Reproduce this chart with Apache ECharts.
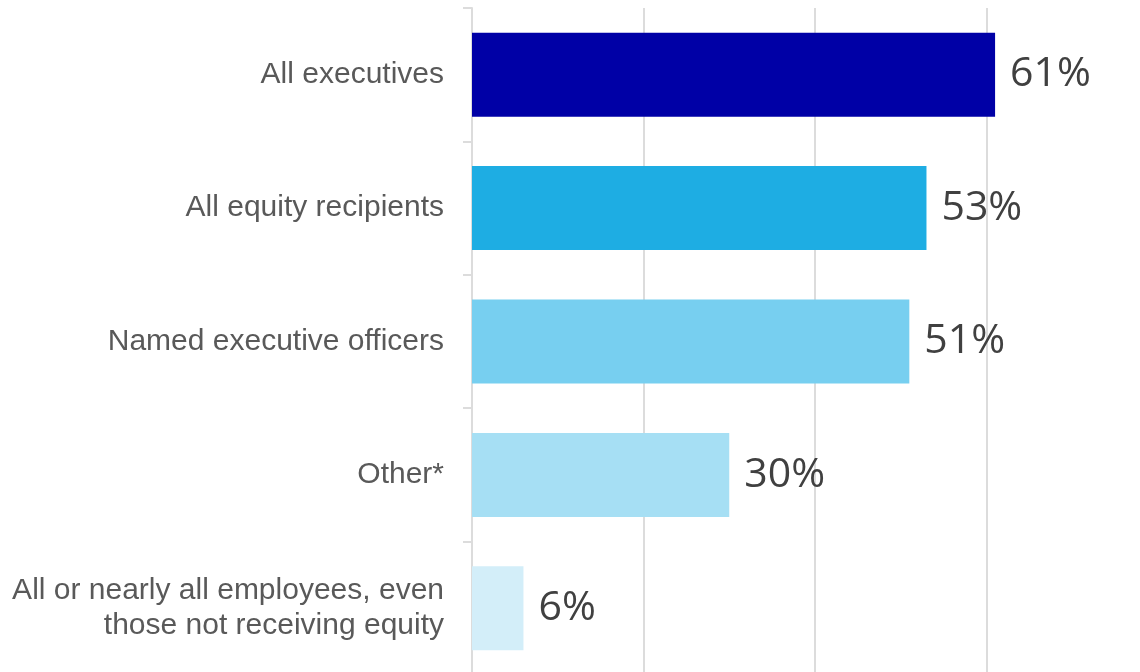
<!DOCTYPE html>
<html>
<head>
<meta charset="utf-8">
<script src="https://cdn.jsdelivr.net/npm/echarts@6/dist/echarts.min.js"></script>
<style>
  html, body { margin: 0; padding: 0; background: #ffffff; overflow: hidden; }
  #chart { width: 1140px; height: 680px; }
</style>
</head>
<body>
<div id="chart"></div>
<script>
// Groups covered by the policy, top to bottom
const categories = [
  'All executives',
  'All equity recipients',
  'Named executive officers',
  'Other*',
  'All or nearly all employees, even\nthose not receiving equity'
];
// Share of companies (%)
const values = [61, 53, 51, 30, 6];
const barColors = ['#0000A6', '#1EADE3', '#77CFF0', '#A6DFF4', '#D3EEF9'];
// Gridline positions (%); the visible range stops just short of 80
const xTicks = [0, 20, 40, 60];
const xMax = 77.9;

const chart = echarts.init(document.getElementById('chart'), null, { renderer: 'canvas' });

chart.setOption({
  animation: false,
  backgroundColor: '#ffffff',
  grid: { left: 472, right: 0, top: 8, height: 667, containLabel: false },
  xAxis: {
    type: 'value',
    min: xTicks[0],
    max: xMax,
    interval: xTicks[1] - xTicks[0],
    axisLabel: { show: false },
    axisLine: { show: false },
    axisTick: { show: false },
    splitLine: { show: true, showMaxLine: false, lineStyle: { color: '#dcdcdc', width: 2 } }
  },
  yAxis: {
    type: 'category',
    inverse: true,
    data: categories,
    axisLine: { show: true, lineStyle: { color: '#dcdcdc', width: 2 } },
    axisTick: { show: true, length: 9, lineStyle: { color: '#dcdcdc', width: 2 } },
    axisLabel: {
      margin: 28,
      color: '#595959',
      fontFamily: 'Liberation Sans, Arial, sans-serif',
      fontSize: 30,
      lineHeight: 35,
      align: 'right'
    }
  },
  series: [{
    type: 'bar',
    data: values.map((v, i) => ({ value: v, itemStyle: { color: barColors[i] } })),
    barWidth: 84,
    label: {
      show: true,
      position: 'right',
      distance: 15,
      formatter: '{c}%',
      color: '#404040',
      fontFamily: 'Open Sans, Noto Sans, sans-serif',
      fontSize: 41
    }
  }]
});
</script>
</body>
</html>
